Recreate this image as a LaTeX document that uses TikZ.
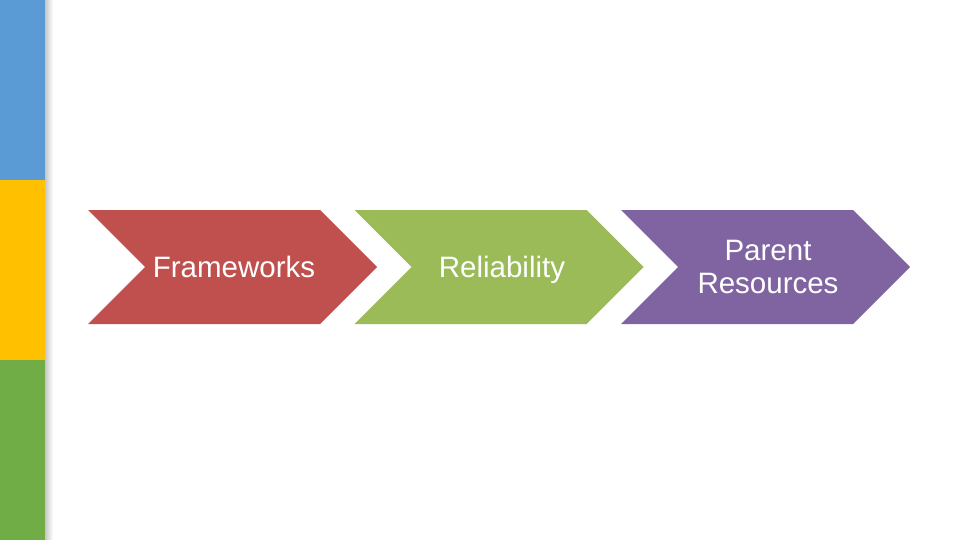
\documentclass[tikz,border=0pt]{standalone}
\usepackage{fontspec}
\setmainfont{Liberation Sans}
\definecolor{barBlue}{HTML}{5B9BD5}
\definecolor{barYellow}{HTML}{FFC000}
\definecolor{barGreen}{HTML}{70AD47}
\definecolor{chRed}{HTML}{C0504D}
\definecolor{chGreen}{HTML}{9BBB59}
\definecolor{chPurple}{HTML}{8064A2}
\begin{document}
\begin{tikzpicture}[x=1pt,y=-1pt,
  lbl/.style={text=white, align=center, font=\fontsize{29.5}{33}\selectfont, inner sep=0pt}]
\useasboundingbox (0,0) rectangle (960,540);
\fill[white] (0,0) rectangle (960,540);
% left bar
\shade[left color=black!22, right color=white] (45,0) rectangle (53,540);
\fill[barBlue] (0,0) rectangle (45,180);
\fill[barYellow] (0,180) rectangle (45,360);
\fill[barGreen] (0,360) rectangle (45,540);
% chevrons
\foreach \x/\c in {88/chRed,354.5/chGreen,621/chPurple}
  \fill[\c] (\x,210) -- ++(232,0) -- ++(57,57) -- ++(-57,57) -- ++(-232,0) -- ++(57,-57) -- cycle;
\node[lbl] (fw) at (234,267) {Frameworks};
\node[lbl] (rel) at (502,270) {Reliability};
\node[lbl] (pr) at (768,267) {Parent\\Resources};
\end{tikzpicture}
\end{document}
